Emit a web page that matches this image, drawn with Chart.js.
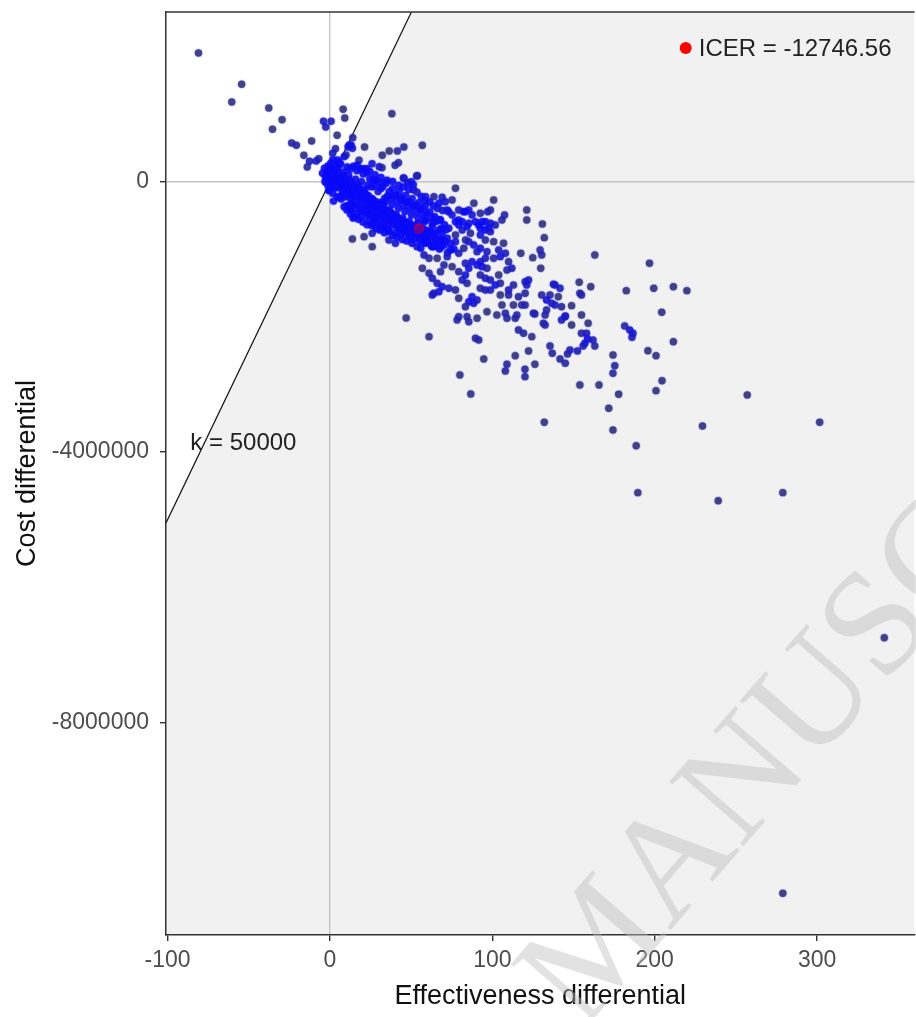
<!DOCTYPE html>
<html>
<head>
<meta charset="utf-8">
<script src="https://cdn.jsdelivr.net/npm/chart.js@4.4.1/dist/chart.umd.min.js"></script>
<style>
  html, body { margin: 0; padding: 0; background: #fff; overflow: hidden; }
  #wrap { width: 920px; height: 1017px; position: relative; }
</style>
</head>
<body>
<div id="wrap"><canvas id="plane"></canvas></div>
<script>
// cost-effectiveness plane, values
const wtp = 50000;
const icer = -12746.56;
const meanEffect = 54.8;
const xTicks = [-100, 0, 100, 200, 300];
const yTicks = [0, -4000000, -8000000];
const xRange = [-101, 360];
const yRange = [-11146000, 2507000];

// simulations above / near zero cost
const nwSims = [
  [-81.0,1901000],[-54.4,1438000],[-60.5,1176000],[-37.7,1087000],[-29.5,914000],[-35.4,772000],
  [-23.6,569000],[-20.7,535000],[-11.3,599000],[-16.1,387000],[-12.6,299000],[-14.0,214000],
  [-6.9,337000],[-8.5,303000],[8.1,1068000],[9.1,939000],[-4.0,890000],[0.7,890000],[-2.6,806000],
  [4.4,683000],[14.0,648000],[11.1,510000],[13.0,535000],[21.3,510000],[38.1,1003000],[3.4,485000],
  [32.2,387000],[36.5,451000],[41.5,451000],[45.5,510000],[56.9,535000],[40.1,240000],[42.2,278000],
  [32.0,204000],[53.4,81000],[45.2,52000],[51.3,-47000],[47.9,-18000],[17.9,314000],[25.9,263000],
  [22.8,189000],[9.9,392000],[1.7,417000],[5.8,278000],[1.7,318000],[30.3,219000],[53.8,86000],
  [50.1,-3000],[45.6,47000],[77.3,-101000],[51.6,-126000],[71.0,-299000],[82.2,-447000],[79.2,-569000],
  [73.0,-447000],[13.8,-850000],[21.0,-816000],[26.0,-766000],[26.0,-964000],[36.3,-865000],
  [40.3,-914000],[50.5,-914000],[53.6,-964000],[59.7,-865000],[63.8,-964000],[-4.6,121000],
  [-2.6,71000],[0.5,269000],[4.6,318000],[8.7,367000],[11.8,540000],[13.8,491000],[-0.5,-126000],
  [4.6,-225000],[8.7,-373000],[12.7,-422000],[14.8,-521000],[23.0,-447000],[27.1,-618000],
  [31.1,-668000],[36.3,-717000],[41.4,-618000]
];

// dense band just right of the origin
const coreSims = [
  [-1.6,150000],[-1.3,80000],[0.4,200000],[-0.3,30000],[1.4,120000],[0.7,-40000],[2.4,60000],[1.7,180000],
  [3.4,-20000],[2.7,110000],[4.4,40000],[3.7,-90000],[5.4,10000],[4.7,150000],[6.4,-60000],[5.7,70000],
  [7.4,-130000],[6.7,20000],[8.4,-40000],[7.7,90000],[9.4,-170000],[8.7,-70000],[10.4,0],[9.7,-120000],
  [11.4,-210000],[10.7,-60000],[12.4,-150000],[11.7,30000],[13.4,-100000],[12.7,-260000],[14.4,-190000],
  [13.7,-40000],[15.4,-130000],[14.7,-300000],[16.4,-220000],[15.7,-80000],[17.4,-170000],[16.7,-340000],
  [18.4,-250000],[17.7,-110000],[19.4,-200000],[18.7,-380000],[20.4,-290000],[19.7,-140000],[21.4,-230000],
  [20.7,-420000],[22.4,-330000],[21.7,-180000],[23.4,-270000],[22.7,-450000],[24.4,-360000],[23.7,-210000],
  [25.4,-300000],[24.7,-490000],[26.4,-400000],[25.7,-250000],[27.4,-340000],[26.7,-530000],[28.4,-440000],
  [27.7,-290000],[29.4,-380000],[28.7,-560000],[30.4,-470000],[29.7,-330000],[31.4,-420000],[30.7,-600000],
  [32.4,-500000],[31.7,-360000],[33.4,-450000],[32.7,-640000],[34.4,-540000],[33.7,-400000],[35.4,-480000],
  [34.7,-680000],[36.4,-580000],[35.7,-430000],[37.4,-520000],[38.4,-620000],[37.7,-460000],[39.4,-560000],
  [40.4,-660000],[39.7,-500000],[41.4,-600000],[42.4,-700000],[41.7,-540000],[43.4,-630000],[44.4,-720000],
  [43.7,-570000],[45.4,-660000],[46.4,-760000],[45.7,-600000],[47.4,-690000],[48.4,-790000],[47.7,-630000],
  [49.4,-720000],[50.4,-820000],[49.7,-650000],[52.4,-750000],[51.7,-850000],[54.4,-780000],[55.4,-880000],
  [56.4,-700000],[57.4,-820000],[58.4,-900000],[60.4,-760000],[59.7,-870000],[62.4,-950000],[64.4,-820000],
  [65.4,-900000],[67.4,-1000000],[68.4,-860000],[70.4,-940000],[72.4,-1050000],[74.4,-920000],[76.4,-1000000]
];

// more of the blob, read across its width
const blobSims = [
  [-3.4,195000],[-2.6,35000],[-3.1,-5000],[-1.3,230000],[-0.6,150000],[-1.5,-50000],[-0.8,-135000],
  [0.6,170000],[1.4,95000],[0.8,-75000],[1.7,-175000],[2.5,235000],[3.3,175000],[2.8,-10000],[3.6,-90000],
  [2.2,-290000],[4.7,195000],[5.5,20000],[4.4,-55000],[5.8,-235000],[6.6,255000],[7.4,85000],[6.3,5000],
  [7.8,-180000],[6.9,-260000],[8.5,140000],[9.6,35000],[8.8,-150000],[9.3,-225000],[10.6,215000],
  [11.5,95000],[10.8,-85000],[11.9,-165000],[10.4,-360000],[12.7,190000],[13.6,-20000],[12.4,-135000],
  [13.3,-330000],[14.5,225000],[15.7,35000],[14.8,-125000],[15.4,-205000],[14.2,-400000],[16.6,160000],
  [17.5,-60000],[16.3,-175000],[17.8,-370000],[18.7,185000],[19.4,-5000],[18.4,-165000],[19.8,-245000],
  [18.9,-440000],[20.5,110000],[21.6,-110000],[20.8,-215000],[21.3,-410000],[22.6,135000],[23.4,-55000],
  [22.3,-205000],[23.7,-285000],[22.9,-505000],[24.5,40000],[25.6,-80000],[24.8,-290000],[25.3,-405000],
  [26.6,20000],[27.5,-65000],[26.2,-265000],[27.8,-345000],[26.9,-530000],[28.5,15000],[29.6,-150000],
  [28.7,-340000],[29.3,-435000],[30.6,-20000],[31.4,-105000],[30.3,-310000],[31.8,-415000],[30.8,-530000],
  [32.5,-75000],[33.6,-250000],[32.8,-325000],[33.3,-515000],[34.6,-25000],[35.5,-215000],[34.2,-295000],
  [35.8,-480000],[34.9,-580000],[36.5,-150000],[37.6,-255000],[36.8,-440000],[37.3,-525000],[38.6,-105000],
  [39.5,-215000],[38.2,-345000],[39.8,-530000],[38.9,-630000],[40.5,-200000],[41.6,-305000],[40.8,-490000],
  [41.3,-575000],[42.6,-155000],[43.5,-265000],[42.2,-395000],[43.8,-580000],[42.9,-680000],[44.5,-250000],
  [45.6,-355000],[44.8,-540000],[45.3,-625000],[46.6,-205000],[47.5,-315000],[46.2,-445000],[47.8,-630000],
  [46.9,-730000],[48.5,-300000],[49.6,-405000],[48.8,-590000],[49.3,-675000],[50.6,-255000],[51.5,-365000],
  [50.2,-495000],[51.8,-680000],[50.9,-780000],[52.5,-350000],[53.6,-455000],[52.8,-640000],[53.3,-725000],
  [54.6,-315000],[55.5,-415000],[54.2,-545000],[55.8,-730000],[54.9,-830000],[56.5,-400000],[57.6,-505000],
  [56.8,-690000],[57.3,-775000],[58.6,-365000],[59.5,-465000],[58.2,-595000],[59.8,-780000],[58.9,-880000],
  [61.5,-450000],[62.6,-535000],[61.8,-735000],[62.3,-860000],[64.5,-520000],[65.6,-590000],[64.8,-765000],
  [65.3,-940000],[67.5,-565000],[68.6,-695000],[67.8,-855000],[68.3,-970000],[70.5,-640000],[71.6,-710000],
  [70.8,-885000],
  // lower and upper edges of the blob
  [10.4,-420000],[12.6,-480000],[14.2,-540000],[17.5,-560000],[20.3,-600000],[22.8,-640000],[25.6,-650000],
  [28.3,-700000],[30.8,-720000],[33.5,-760000],[36.1,-740000],[38.7,-800000],[41.2,-820000],[44.5,-860000],
  [47.3,-880000],[11.7,-360000],[16.4,-470000],[19.1,-520000],[24.2,-580000],[27.4,-620000],[32.2,-690000],
  [35.3,-700000],[40.1,-760000],[43.6,-790000],[53.6,-160000],[56.2,-220000],[58.4,-280000],[61.3,-300000],
  [63.7,-360000],[66.2,-400000],[69.4,-430000],[48.5,-120000],[45.2,-80000],[42.3,-60000],[38.6,0],
  [35.1,20000],[31.4,60000],[27.7,100000],[24.5,150000],[20.6,190000],[16.8,240000]
];

// middle of the cloud
const midSims = [
  [88.6,-322000],[97.1,-447000],[107.5,-495000],[105.9,-569000],[121.2,-422000],[121.2,-569000],
  [130.8,-629000],[100.8,-274000],[75.2,-274000],[69.1,-234000],[64.0,-225000],[79.3,-422000],
  [85.5,-422000],[92.6,-470000],[98.8,-422000],[95.7,-595000],[91.6,-643000],[95.7,-717000],
  [101.8,-643000],[63.0,-668000],[67.1,-717000],[72.2,-840000],[77.3,-890000],[83.5,-865000],
  [49.8,-840000],[58.9,-717000],[67.1,-322000],[58.9,-225000],[72.2,-422000],[68.1,-569000],
  [63.0,-618000],[58.9,-569000],[54.8,-618000],[83.4,-447000],[75.2,-495000],[87.5,-495000],
  [85.5,-618000],[81.4,-595000],[77.3,-595000],[89.6,-595000],[93.6,-595000],[98.8,-618000],
  [92.6,-692000],[97.7,-692000],[132.0,-831000],[117.5,-1062000],[124.9,-1127000],[130.4,-1087000],
  [129.4,-1013000],[129.8,-1284000],[163.1,-1087000],[153.5,-1491000],[160.6,-1556000],
  [137.6,-1520000],[141.7,-1580000],[153.9,-1654000],[154.9,-1679000],[148.8,-1837000],
  [154.9,-1975000],[159.0,-2097000],[162.0,-2345000],[157.0,-2393000],[130.4,-1679000],
  [135.5,-1679000],[140.6,-1704000],[133.4,-1753000],[138.6,-1827000],[142.6,-1852000],
  [144.7,-2000000],[132.5,-1975000],[125.3,-1949000],[120.2,-1827000],[116.1,-1704000],
  [113.0,-1827000],[132.5,-2122000],[131.4,-2097000],[148.8,-2122000],[154.9,-2245000],
  [158.0,-2245000],[110.0,-1679000],[105.9,-1827000],[108.0,-1949000],[115.1,-1975000],
  [118.1,-1827000],[114.1,-2023000],[109.0,-2023000],[102.8,-1975000],[90.6,-2023000],
  [84.4,-2000000],[78.3,-2049000],[79.3,-2000000],[116.1,-2196000],[119.2,-2245000],
  [124.3,-2295000],[85.5,-2074000],[89.6,-2319000],[61.0,-2295000],[104.9,-1679000],
  [110.0,-1605000],[113.0,-1531000],[120.2,-1482000],[121.2,-1531000],[112.0,-1284000],
  [109.0,-1309000],[103.9,-1383000],[104.9,-1506000],[101.8,-1531000],[98.8,-1605000],
  [95.7,-1605000],[92.6,-1580000],[98.8,-1457000],[95.7,-1432000],[92.6,-1383000],[96.7,-1284000],
  [93.6,-1260000],[87.5,-1704000],[88.5,-1802000],[85.5,-1778000],[90.6,-1753000],[83.4,-1852000],
  [79.3,-1728000],[77.3,-1605000],[73.2,-1580000],[69.1,-1556000],[66.0,-1506000],[63.0,-1432000],
  [67.1,-1630000],[64.0,-1654000],[63.0,-1679000],[84.4,-1506000],[81.4,-1457000],[83.4,-1383000],
  [79.3,-1334000],[75.2,-1260000],[70.2,-1235000],[66.0,-1136000],[61.0,-1136000],[57.9,-1087000],
  [56.9,-1284000],[61.0,-1358000],[68.1,-1334000],[85.5,-1284000],[83.4,-1210000],[87.5,-1186000],
  [90.6,-1235000],[92.6,-1186000],[95.7,-1136000],[96.7,-1038000],[92.6,-988000],[90.6,-1038000],
  [88.5,-939000],[85.5,-890000],[82.4,-988000],[79.3,-1062000],[74.3,-1013000],[72.2,-1112000],
  [67.1,-939000],[63.0,-964000],[58.9,-914000],[55.9,-988000],[56.9,-840000],[64.0,-791000],
  [69.1,-766000],[73.2,-692000],[77.3,-791000],[81.4,-717000],[79.3,-643000],[84.4,-668000],
  [86.5,-766000],[92.6,-791000],[98.8,-742000],[95.7,-865000],[100.8,-890000],[106.9,-914000],
  [103.9,-1013000],[108.0,-1062000],[100.8,-1136000],[104.9,-1112000],[110.0,-1186000],
  [126.2,-1960000],[133.4,-1901000],[142.6,-2049000],[145.0,-1990000],[138.6,-1531000],
  [136.5,-1802000],[122.3,-1457000],[120.2,-1654000],[96.7,-1926000],[91.6,-2345000]
];

// sparse tail towards large savings
const tailSims = [
  [196.8,-1210000],[182.5,-1615000],[199.4,-1580000],[211.5,-1556000],[219.8,-1615000],
  [204.3,-1935000],[211.5,-2370000],[181.5,-2137000],[184.6,-2197000],[186.6,-2245000],
  [186.0,-2305000],[195.8,-2503000],[200.8,-2577000],[174.3,-2567000],[175.4,-2725000],
  [174.3,-2837000],[153.9,-3010000],[165.7,-3010000],[177.8,-3148000],[171.7,-3355000],
  [204.5,-2947000],[200.8,-3094000],[174.3,-3676000],[132.0,-3562000],[229.4,-3617000],
  [163.1,-2433000],[158.6,-2330000],[155.9,-2433000],[152.4,-2507000],[147.8,-2493000],
  [146.3,-2552000],[141.7,-2626000],[144.9,-2689000],[135.5,-2433000],[136.9,-2541000],
  [122.3,-2507000],[126.2,-2704000],[120.1,-2778000],[120.1,-2887000],[108.0,-2803000],
  [109.0,-2704000],[114.1,-2577000],[94.7,-2626000],[257.0,-3158000],[188.6,-3908000],
  [301.6,-3562000],[189.6,-4603000],[239.1,-4722000],[278.9,-4603000],[341.4,-6748000],
  [278.9,-10529000],[46.9,-2019000],[80.0,-2862000],[86.7,-3143000]
];

const sims = [].concat(nwSims, coreSims, blobSims, midSims, tailSims).map(p => ({ x: p[0], y: p[1] }));
const FONT = '"Liberation Sans", Arial, sans-serif';

// overlapping points pile up into blue, as in the original
let crowd = null, crowdKey = null;
function crowding(chart) {
  const xs = chart.scales.x, ys = chart.scales.y;
  const key = xs.width + 'x' + ys.height;
  if (crowd && crowdKey === key) return crowd;
  const px = sims.map(p => [xs.getPixelForValue(p.x), ys.getPixelForValue(p.y)]);
  crowd = px.map(([a, b]) => px.filter(([c, d]) => (a - c) * (a - c) + (b - d) * (b - d) < 64).length - 1);
  crowdKey = key;
  return crowd;
}
function simColor(ctx) {
  if (!ctx.chart.scales.x || ctx.dataIndex === undefined) return 'rgba(60,60,95,0.9)';
  const n = crowding(ctx.chart)[ctx.dataIndex] || 0;
  const t = Math.min(1, n / 4);
  const rg = Math.round(60 - 48 * t), b = Math.round(95 + 145 * t);
  return 'rgba(' + rg + ',' + rg + ',' + b + ',0.9)';
}

// shaded area under the willingness-to-pay line, the line, labels
const planeBg = {
  id: 'planeBg',
  beforeDraw(chart) {
    const { ctx, chartArea: a, scales: { x, y } } = chart;
    ctx.save();
    ctx.fillStyle = '#ffffff';
    ctx.fillRect(a.left, a.top, a.right - a.left, a.bottom - a.top);
    const x0 = xRange[0], y1 = yRange[1];
    ctx.beginPath();
    ctx.moveTo(x.getPixelForValue(x0), y.getPixelForValue(wtp * x0));
    ctx.lineTo(x.getPixelForValue(y1 / wtp), y.getPixelForValue(y1));
    ctx.lineTo(a.right, a.top);
    ctx.lineTo(a.right, a.bottom);
    ctx.lineTo(a.left, a.bottom);
    ctx.closePath();
    ctx.fillStyle = '#f1f1f1';
    ctx.fill();
    ctx.restore();
  },
  beforeDatasetsDraw(chart) {
    const { ctx, chartArea: a, scales: { x, y } } = chart;
    ctx.save();
    // watermark
    ctx.translate(582, 1032);
    ctx.rotate(-49 * Math.PI / 180);
    ctx.font = '150px "Liberation Serif", "Times New Roman", serif';
    ctx.fillStyle = 'rgba(190,190,190,0.45)';
    ctx.textBaseline = 'alphabetic';
    ctx.textAlign = 'left';
    ctx.fillText('MANUSCRIPT', 0, 0);
    ctx.textAlign = 'right';
    ctx.fillText('ACCEPTED ', 0, 0);
    ctx.restore();

    ctx.save();
    ctx.beginPath();
    ctx.rect(a.left, a.top, a.right - a.left, a.bottom - a.top);
    ctx.clip();
    const x0 = xRange[0], y1 = yRange[1];
    ctx.beginPath();
    ctx.moveTo(x.getPixelForValue(x0), y.getPixelForValue(wtp * x0));
    ctx.lineTo(x.getPixelForValue(y1 / wtp), y.getPixelForValue(y1));
    ctx.strokeStyle = '#111';
    ctx.lineWidth = 1.2;
    ctx.stroke();
    ctx.restore();
  },
  afterDraw(chart) {
    const { ctx, chartArea: a, scales: { x, y } } = chart;
    ctx.save();
    // top frame line
    ctx.strokeStyle = '#333';
    ctx.lineWidth = 1.5;
    ctx.beginPath();
    ctx.moveTo(a.left, a.top);
    ctx.lineTo(a.right, a.top);
    ctx.stroke();
    // k label
    ctx.font = '24px ' + FONT;
    ctx.fillStyle = '#222';
    ctx.textBaseline = 'middle';
    ctx.textAlign = 'left';
    ctx.fillText('k = ' + wtp, x.getPixelForValue(-86), y.getPixelForValue(-3870000));
    // ICER legend
    const label = 'ICER = ' + icer.toFixed(2);
    ctx.textAlign = 'right';
    const tx = a.right - 23, ty = a.top + 37;
    ctx.fillText(label, tx, ty);
    const w = ctx.measureText(label).width;
    ctx.beginPath();
    ctx.arc(tx - w - 13, ty - 1, 6, 0, Math.PI * 2);
    ctx.fillStyle = '#ff0000';
    ctx.fill();
    ctx.restore();
  }
};

const zeroGrid = c => (c.tick && c.tick.value === 0 ? '#c4c4c4' : 'rgba(0,0,0,0)');

new Chart(document.getElementById('plane'), {
  type: 'scatter',
  data: {
    datasets: [
      { label: 'halo', data: sims, pointRadius: 4.6, pointBackgroundColor: 'rgba(10,10,255,0.18)', pointBorderWidth: 0 },
      { label: 'mean', data: [{ x: meanEffect, y: meanEffect * icer }], pointRadius: 5.5, pointBackgroundColor: '#ff0000', pointBorderWidth: 0 },
      { label: 'sims', data: sims, pointRadius: 3.7, pointBackgroundColor: simColor, pointBorderWidth: 0 }
    ]
  },
  options: {
    responsive: true,
    maintainAspectRatio: false,
    animation: false,
    layout: { padding: { top: 12, right: 2, left: 0, bottom: 0 } },
    plugins: { legend: { display: false }, tooltip: { enabled: false } },
    scales: {
      x: {
        type: 'linear',
        min: xRange[0], max: xRange[1],
        afterBuildTicks: s => { s.ticks = xTicks.map(v => ({ value: v })); },
        afterFit: s => { s.height = 82; s.paddingLeft = 0; s.paddingRight = 0; },
        grid: { color: zeroGrid, lineWidth: 1.4, tickColor: '#333', tickLength: 6 },
        border: { display: true, color: '#333', width: 1.5 },
        ticks: { color: '#4d4d4d', font: { family: FONT, size: 23 }, padding: 6, maxRotation: 0, callback: v => String(v) },
        title: { display: true, text: 'Effectiveness differential', color: '#111', font: { family: FONT, size: 27 }, padding: { top: 0, bottom: 4 } }
      },
      y: {
        type: 'linear',
        min: yRange[0], max: yRange[1],
        afterBuildTicks: s => { s.ticks = yTicks.map(v => ({ value: v })); },
        afterFit: s => { s.width = 166; s.paddingTop = 0; s.paddingBottom = 0; },
        grid: { color: zeroGrid, lineWidth: 1.4, tickColor: '#333', tickLength: 6 },
        border: { display: true, color: '#333', width: 1.5 },
        ticks: { color: '#4d4d4d', font: { family: FONT, size: 23 }, padding: 11, callback: v => String(v) },
        title: { display: true, text: 'Cost differential', color: '#111', font: { family: FONT, size: 27 }, padding: { top: 11, bottom: 0 } }
      }
    }
  },
  plugins: [planeBg]
});
</script>
</body>
</html>
